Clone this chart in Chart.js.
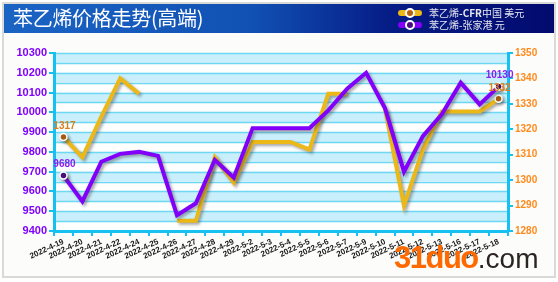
<!DOCTYPE html>
<html><head><meta charset="utf-8">
<script src="https://cdn.jsdelivr.net/npm/chart.js@4"></script>
<style>
html,body{margin:0;padding:0;background:#fff;width:558px;height:282px;overflow:hidden;font-family:"Liberation Sans",Arial,sans-serif}
#card{position:absolute;left:2px;top:2px;width:550px;height:272px;border:2px solid #d9d9d6;background:#fcfcfb}
#head{position:absolute;left:4px;top:4px;width:550px;height:29px;background:linear-gradient(90deg,#1a64c4 0%,#1151b4 45%,#061c86 70%,#020a6e 100%)}
#title{position:absolute;left:9px;top:2px;color:#fff;font:20px "Noto Sans CJK SC",sans-serif;line-height:24px;letter-spacing:-0.3px}
#legend{position:absolute;left:394px;top:3px;color:#e6e6ee;font:10px "Noto Sans CJK SC",sans-serif}
.li{position:relative;height:12px;line-height:12px;white-space:nowrap}
.mk{position:absolute;left:0;top:3px;width:24px;height:6px;border-radius:3px}
.dot{position:absolute;left:7px;width:6px;height:6px;border-radius:50%;border:2px solid #fff;top:-2px}
.tx{position:absolute;left:31px;top:0}
#c{position:absolute;left:0;top:0}
#wm{position:absolute;left:394px;top:240px;white-space:nowrap;line-height:34px}
#wm .a{color:#ff6a00;font:bold 31px "Liberation Sans",Arial,sans-serif;letter-spacing:-1.5px}
#wm .b{color:#2b2522;font:28px "Liberation Sans",Arial,sans-serif}
</style></head>
<body>
<div id="card"></div>
<canvas id="c" width="558" height="282"></canvas>
<div id="head"><div id="title"></div><div id="legend"></div></div>
<div id="wm"><span class="a">31duo</span><span class="b">.com</span></div>
<script>
const titleText = '苯乙烯价格走势(高端)';
const categories = ['2022-4-19','2022-4-20','2022-4-21','2022-4-22','2022-4-24','2022-4-25','2022-4-26','2022-4-27','2022-4-28','2022-4-29','2022-5-2','2022-5-3','2022-5-4','2022-5-5','2022-5-6','2022-5-7','2022-5-9','2022-5-10','2022-5-11','2022-5-12','2022-5-13','2022-5-16','2022-5-17','2022-5-18'];
const seriesNames = ['苯乙烯-CFR中国 美元','苯乙烯-张家港 元'];
const cfrUSD = [1317,1309,1325,1340,1334,null,1284,1284,1309,1299,1315,1315,1315,1312,1334,1334,null,1328,1290,1312,1327,1327,1327,1332];
const zjgCNY = [9680,9550,9750,9790,9800,9780,9480,9540,9760,9670,9920,9920,9920,9920,10010,10120,10200,10020,9700,9880,9990,10150,10040,10130];
const leftTicks = {min:9400,max:10300,step:100,band:50};
const rightTicks = {min:1280,max:1350,step:10};

const lineColors = ['#ecb818','#8200fa'];
const dotColors = ['#b8620c','#4a0a84'];
const labelColors = ['#d8801e','#8a20f0'];

document.getElementById('title').textContent = titleText;
const lg = document.getElementById('legend');
seriesNames.forEach((n,i)=>{
  const d=document.createElement('div');d.className='li';
  d.innerHTML='<span class="mk" style="background:'+lineColors[i]+'"><span class="dot" style="background:'+dotColors[i]+'"></span></span><span class="tx">'+n.replace('-CFR','<b>-CFR</b>')+'</span>';
  lg.appendChild(d);
});

const lastIdx = categories.length-1;
const radii = categories.map((c,i)=> (i===0||i===lastIdx)?3.5:0);

const bandPlugin = {
  id:'bands',
  beforeDraw(chart){
    const {ctx, chartArea:a, scales:{y}} = chart;
    ctx.save();
    let k=0;
    for(let v=leftTicks.max; v>leftTicks.min; v-=leftTicks.band, k++){
      const t=y.getPixelForValue(v), b=y.getPixelForValue(v-leftTicks.band);
      ctx.fillStyle = (k%2===0)?'#c8effb':'#fdfefe';
      ctx.fillRect(a.left,t,a.right-a.left,b-t);
    }
    ctx.strokeStyle='#6ed7f3'; ctx.lineWidth=1.5;
    for(let v=leftTicks.min; v<=leftTicks.max; v+=leftTicks.band){
      const p=Math.round(y.getPixelForValue(v))+0.5;
      ctx.beginPath(); ctx.moveTo(a.left,p); ctx.lineTo(a.right,p); ctx.stroke();
    }
    ctx.restore();
  }
};
const shadowPlugin = {
  id:'shadow',
  beforeDatasetDraw(chart){const c=chart.ctx;c.save();c.shadowColor='rgba(60,60,60,0.45)';c.shadowBlur=3;c.shadowOffsetX=2;c.shadowOffsetY=2;},
  afterDatasetDraw(chart){chart.ctx.restore();}
};
const labelPlugin = {
  id:'endLabels',
  afterDraw(chart){
    const ctx=chart.ctx; ctx.save();
    ctx.font='bold 10px "Liberation Sans",Arial,sans-serif'; ctx.textAlign='center'; ctx.textBaseline='middle';
    chart.data.datasets.forEach((ds,di)=>{
      const meta=chart.getDatasetMeta(di);
      [0,lastIdx].forEach(i=>{
        const el=meta.data[i]; if(!el||ds.data[i]==null) return;
        ctx.fillStyle=labelColors[di];
        ctx.fillText(String(ds.data[i]), el.x+1, el.y-11);
      });
    });
    ctx.restore();
  }
};

const axisColor='#16c1f2';
const plain = v => String(v);
new Chart(document.getElementById('c'),{
  type:'line',
  data:{labels:categories,datasets:[
    {label:seriesNames[0],data:cfrUSD,yAxisID:'y1',borderColor:lineColors[0],borderWidth:4,pointRadius:radii,pointBackgroundColor:dotColors[0],pointBorderColor:'#fff',pointBorderWidth:1.5,tension:0,spanGaps:false,order:2},
    {label:seriesNames[1],data:zjgCNY,yAxisID:'y',borderColor:lineColors[1],borderWidth:4,pointRadius:radii,pointBackgroundColor:dotColors[1],pointBorderColor:'#fff',pointBorderWidth:1.5,tension:0,order:1}
  ]},
  options:{
    responsive:false,animation:false,
    layout:{padding:{top:53,left:0,right:0,bottom:0}},
    plugins:{legend:{display:false},tooltip:{enabled:false}},
    scales:{
      x:{offset:true,
        grid:{offset:true,drawOnChartArea:false,color:axisColor,lineWidth:2,tickLength:5},
        border:{color:axisColor,width:3},
        ticks:{autoSkip:false,minRotation:25,maxRotation:25,padding:1,color:'#1a1a1a',font:{family:'"Liberation Sans",Arial',size:8,weight:'bold'}},
        afterFit(s){s.height=51;}
      },
      y:{position:'left',min:leftTicks.min,max:leftTicks.max,
        ticks:{stepSize:leftTicks.step,padding:2,callback:plain,color:'#7f00ff',font:{family:'"Liberation Sans",Arial',size:11,weight:'bold'}},
        grid:{drawOnChartArea:false,color:axisColor,lineWidth:2,tickLength:5},
        border:{color:axisColor,width:3},
        afterFit(s){s.width=54;}
      },
      y1:{position:'right',min:rightTicks.min,max:rightTicks.max,
        ticks:{stepSize:rightTicks.step,padding:2,callback:plain,color:'#ff8a1c',font:{family:'"Liberation Sans",Arial',size:10,weight:'bold'}},
        grid:{drawOnChartArea:false,color:axisColor,lineWidth:2,tickLength:5},
        border:{color:axisColor,width:3},
        afterFit(s){s.width=50;}
      }
    }
  },
  plugins:[bandPlugin,shadowPlugin,labelPlugin]
});
</script>
</body></html>
